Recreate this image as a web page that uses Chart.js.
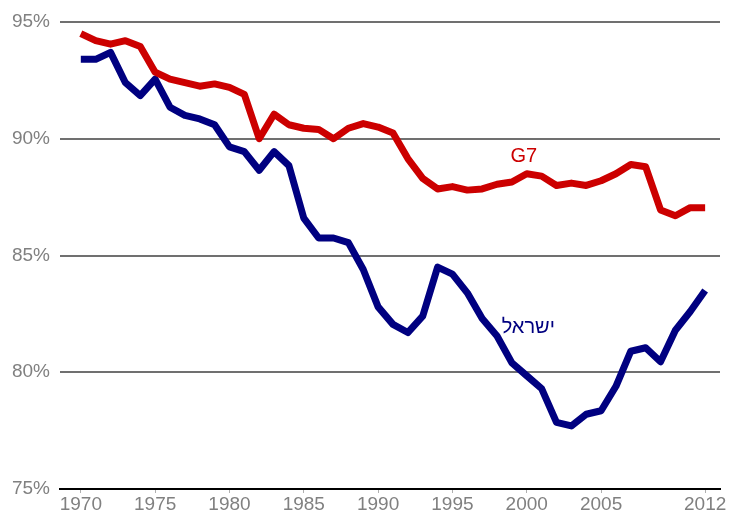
<!DOCTYPE html>
<html>
<head>
<meta charset="utf-8">
<script src="https://cdn.jsdelivr.net/npm/chart.js@4/dist/chart.umd.min.js"></script>
<style>
    body { margin: 0; background: #fff; }
    #wrap { width: 729px; height: 513px; position: relative; }
</style>
</head>
<body>
<div id="wrap"><canvas id="chart"></canvas></div>
<script>
// 데이터
const years = [];
for (let y = 1970; y <= 2012; y++) years.push(y);

const g7Values = [
    94.5, 94.2, 94.05, 94.2, 93.95, 92.85, 92.55, 92.4, 92.25, 92.35,
    92.2, 91.9, 90.0, 91.05, 90.6, 90.45, 90.4, 90.0, 90.45, 90.65,
    90.5, 90.25, 89.15, 88.3, 87.85, 87.95, 87.8, 87.85, 88.05, 88.15,
    88.5, 88.4, 88.0, 88.1, 88.0, 88.2, 88.5, 88.9, 88.8, 86.95,
    86.7, 87.05, 87.05
];

const israelValues = [
    93.4, 93.4, 93.7, 92.4, 91.85, 92.55, 91.35, 91.0, 90.85, 90.6,
    89.65, 89.45, 88.65, 89.45, 88.85, 86.6, 85.75, 85.75, 85.55, 84.4,
    82.8, 82.05, 81.7, 82.4, 84.5, 84.2, 83.4, 82.3, 81.55, 80.4,
    79.85, 79.3, 77.85, 77.7, 78.2, 78.35, 79.4, 80.9, 81.05, 80.45,
    81.8, 82.6, 83.5
];

const xTickYears = [1970, 1975, 1980, 1985, 1990, 1995, 2000, 2005, 2012];
const yTickValues = [75, 80, 85, 90, 95];

// 시리즈 라벨 (데이터 좌표)
const seriesLabels = [
    { text: 'G7', x: 1999.8, y: 89.22, color: '#cc0000' },
    { text: 'ישראל', x: 2000.1, y: 81.9, color: '#000080' }
];

const toPoints = (vals) => vals.map((v, i) => ({ x: years[i], y: v }));

const labelPlugin = {
    id: 'seriesLabels',
    afterDatasetsDraw(chart) {
        const { ctx, scales } = chart;
        ctx.save();
        ctx.font = '20px "Liberation Sans", Arial, sans-serif';
        ctx.textAlign = 'center';
        ctx.textBaseline = 'middle';
        seriesLabels.forEach(l => {
            ctx.fillStyle = l.color;
            ctx.fillText(l.text, scales.x.getPixelForValue(l.x), scales.y.getPixelForValue(l.y));
        });
        ctx.restore();
    }
};

const tickFont = { family: '"Liberation Sans", Arial, sans-serif', size: 19 };

new Chart(document.getElementById('chart').getContext('2d'), {
    type: 'line',
    data: {
        datasets: [
            {
                label: 'G7',
                data: toPoints(g7Values),
                borderColor: '#cc0000',
                borderWidth: 7,
                pointRadius: 0,
                borderJoinStyle: 'round',
                tension: 0
            },
            {
                label: 'ישראל',
                data: toPoints(israelValues),
                borderColor: '#000080',
                borderWidth: 7,
                pointRadius: 0,
                borderJoinStyle: 'round',
                tension: 0
            }
        ]
    },
    options: {
        responsive: true,
        maintainAspectRatio: false,
        animation: false,
        layout: { padding: { top: 22, right: 9, left: 0, bottom: 0 } },
        plugins: {
            legend: { display: false },
            tooltip: { enabled: false }
        },
        scales: {
            x: {
                type: 'linear',
                min: 1968.6,
                max: 2013.0,
                afterBuildTicks: (scale) => {
                    scale.ticks = xTickYears.map(v => ({ value: v }));
                },
                afterFit: (scale) => { scale.height = 24; },
                ticks: {
                    color: '#808080',
                    font: tickFont,
                    padding: 0,
                    maxRotation: 0,
                    autoSkip: false,
                    callback: (v) => String(v)
                },
                grid: {
                    drawOnChartArea: false,
                    drawTicks: true,
                    tickLength: 4,
                    color: '#b0b0b0'
                },
                border: { display: true, color: '#000000', width: 2 }
            },
            y: {
                min: 75,
                max: 95,
                afterBuildTicks: (scale) => {
                    scale.ticks = yTickValues.map(v => ({ value: v }));
                },
                afterFit: (scale) => { scale.width = 60; },
                ticks: {
                    color: '#808080',
                    font: tickFont,
                    padding: 10,
                    callback: (v) => v + '%'
                },
                grid: {
                    drawTicks: false,
                    color: (c) => c.tick && c.tick.value === 75 ? '#000000' : '#707070',
                    lineWidth: 2
                },
                border: { display: false }
            }
        }
    },
    plugins: [labelPlugin]
});
</script>
</body>
</html>
